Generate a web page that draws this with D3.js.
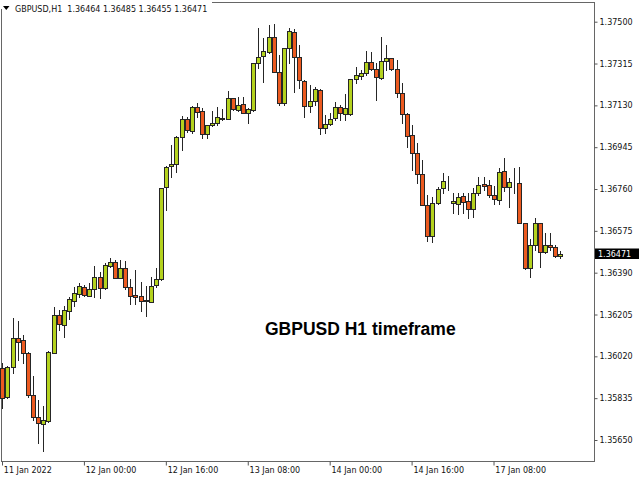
<!DOCTYPE html>
<html>
<head>
<meta charset="utf-8">
<script src="https://cdn.jsdelivr.net/npm/d3@7/dist/d3.min.js"></script>
<style>
  html, body { margin: 0; padding: 0; background: #ffffff; }
  svg { display: block; }
</style>
</head>
<body>
<script>
// ---- DATA (GBPUSD H1, from 11 Jan 2022 08:00) ----
const symbolTitle = "GBPUSD,H1";
const chartCaption = "GBPUSD H1 timeframe";

const open = [
1.35969,1.35841,1.35973,1.36102,1.36093,1.36035,1.35850,1.35752,1.35721,1.35735,
1.36035,1.36204,1.36159,1.36221,1.36265,1.36296,1.36327,1.36288,1.36319,1.36372,
1.36323,1.36420,1.36438,1.36367,1.36411,1.36327,1.36292,1.36288,1.36265,1.36261,
1.36336,1.36363,1.36770,1.36863,1.36872,1.36991,1.37071,1.37018,1.37124,1.37106,
1.37004,1.37044,1.37053,1.37075,1.37071,1.37164,1.37111,1.37137,1.37097,1.37111,
1.37319,1.37350,1.37367,1.37434,1.37279,1.37142,1.37385,1.37456,1.37345,1.37239,
1.37128,1.37150,1.37199,1.37031,1.37049,1.37075,1.37124,1.37093,1.37093,1.37248,
1.37261,1.37274,1.37323,1.37292,1.37252,1.37327,1.37341,1.37292,1.37186,1.37093,
1.37000,1.36920,1.36827,1.36690,1.36553,1.36699,1.36765,1.36792,1.36699,1.36695,
1.36730,1.36708,1.36673,1.36743,1.36783,1.36779,1.36735,1.36712,1.36841,1.36770,
1.36792,1.36788,1.36611,1.36411,1.36513,1.36611,1.36482,1.36513,1.36504,1.36464
];
const high = [
1.35991,1.35978,1.36190,1.36177,1.36115,1.36040,1.35934,1.35827,1.35801,1.36044,
1.36239,1.36226,1.36243,1.36283,1.36327,1.36345,1.36336,1.36345,1.36420,1.36394,
1.36434,1.36456,1.36447,1.36447,1.36442,1.36363,1.36403,1.36350,1.36332,1.36372,
1.36411,1.36765,1.36863,1.36956,1.36996,1.37084,1.37080,1.37128,1.37142,1.37119,
1.37044,1.37106,1.37124,1.37115,1.37195,1.37164,1.37168,1.37168,1.37119,1.37319,
1.37473,1.37429,1.37487,1.37491,1.37354,1.37385,1.37473,1.37469,1.37398,1.37243,
1.37221,1.37212,1.37204,1.37089,1.37097,1.37146,1.37133,1.37181,1.37248,1.37301,
1.37288,1.37372,1.37367,1.37319,1.37434,1.37398,1.37341,1.37332,1.37230,1.37097,
1.37044,1.36965,1.36889,1.36735,1.36726,1.36770,1.36832,1.36819,1.36743,1.36743,
1.36743,1.36743,1.36765,1.36814,1.36814,1.36801,1.36774,1.36854,1.36898,1.36810,
1.36854,1.36858,1.36611,1.36540,1.36633,1.36611,1.36566,1.36566,1.36513,1.36485
];
const low = [
1.35792,1.35836,1.35947,1.36004,1.35991,1.35841,1.35739,1.35637,1.35602,1.35730,
1.36035,1.36137,1.36106,1.36186,1.36243,1.36283,1.36288,1.36288,1.36283,1.36279,
1.36319,1.36416,1.36367,1.36367,1.36319,1.36252,1.36252,1.36221,1.36199,1.36261,
1.36327,1.36358,1.36668,1.36814,1.36836,1.36934,1.37013,1.37009,1.37080,1.36987,
1.36987,1.37040,1.37044,1.37066,1.37071,1.37111,1.37106,1.37097,1.37053,1.37106,
1.37296,1.37234,1.37363,1.37279,1.37133,1.37133,1.37319,1.37190,1.37208,1.37080,
1.37102,1.37133,1.37004,1.37009,1.37044,1.37066,1.37066,1.37066,1.37089,1.37230,
1.37248,1.37265,1.37288,1.37155,1.37248,1.37288,1.37288,1.37168,1.37053,1.36947,
1.36845,1.36788,1.36690,1.36531,1.36527,1.36695,1.36743,1.36757,1.36655,1.36650,
1.36655,1.36633,1.36637,1.36735,1.36757,1.36726,1.36695,1.36695,1.36752,1.36681,
1.36743,1.36611,1.36407,1.36372,1.36491,1.36416,1.36478,1.36491,1.36460,1.36455
];
const close = [
1.35836,1.35973,1.36102,1.36084,1.36035,1.35850,1.35752,1.35726,1.35739,1.36040,
1.36204,1.36164,1.36226,1.36274,1.36301,1.36332,1.36292,1.36319,1.36372,1.36323,
1.36425,1.36438,1.36367,1.36411,1.36327,1.36288,1.36283,1.36265,1.36270,1.36332,
1.36363,1.36765,1.36858,1.36872,1.36991,1.37071,1.37022,1.37124,1.37102,1.37004,
1.37044,1.37053,1.37080,1.37071,1.37164,1.37115,1.37133,1.37097,1.37115,1.37319,
1.37345,1.37372,1.37434,1.37279,1.37142,1.37385,1.37460,1.37345,1.37243,1.37128,
1.37150,1.37204,1.37031,1.37049,1.37071,1.37124,1.37097,1.37119,1.37248,1.37265,
1.37274,1.37323,1.37292,1.37257,1.37327,1.37341,1.37292,1.37186,1.37093,1.36996,
1.36920,1.36827,1.36690,1.36553,1.36699,1.36761,1.36797,1.36792,1.36708,1.36726,
1.36704,1.36673,1.36743,1.36779,1.36774,1.36735,1.36717,1.36836,1.36770,1.36792,
1.36792,1.36611,1.36411,1.36513,1.36611,1.36482,1.36513,1.36504,1.36465,1.36471
];

const yTicks = [1.37500,1.37315,1.37130,1.36945,1.36760,1.36575,1.36390,1.36205,1.36020,1.35835,1.35650];
const xTickIndex = [0,16,32,48,64,80,96];
const xTickLabels = ["11 Jan 2022","12 Jan 00:00","12 Jan 16:00","13 Jan 08:00","14 Jan 00:00","14 Jan 16:00","17 Jan 08:00"];

// ---- CHART ----
const W = 640, H = 480;
const bullFill = "#b4d21e", bearFill = "#ec5a20", edge = "#262626";
const font = "'DejaVu Sans', Verdana, sans-serif";

const bars = open.map((o, i) => ({ i, o, h: high[i], l: low[i], c: close[i] }));
const last = bars[bars.length - 1];

const svg = d3.select("body").append("svg").attr("width", W).attr("height", H);

const x = d3.scaleLinear().domain([0, bars.length - 1]).range([2.3, 2.3 + 5.12 * (bars.length - 1)]);
const y = d3.scaleLinear().domain([1.35650, 1.37500]).range([440, 21.7]);

// frame
svg.append("rect").attr("x", 1.5).attr("y", 2.5).attr("width", 593).attr("height", 459)
  .attr("fill", "none").attr("stroke", "#666").attr("stroke-width", 1);

// candles
const g = svg.append("g");
const px = d => Math.round(x(d.i));
g.selectAll("line.wick").data(bars).join("line")
  .attr("class", "wick")
  .attr("x1", d => px(d) + 0.5).attr("x2", d => px(d) + 0.5)
  .attr("y1", d => Math.round(y(d.h))).attr("y2", d => Math.round(y(d.l)) + 1)
  .attr("stroke", edge).attr("stroke-width", 1);

g.selectAll("rect.body").data(bars).join("rect")
  .attr("class", "body")
  .attr("x", d => px(d) - 1.5)
  .attr("y", d => Math.round(y(Math.max(d.o, d.c))) + 0.5)
  .attr("width", 4)
  .attr("height", d => Math.max(0, Math.round(y(Math.min(d.o, d.c))) - Math.round(y(Math.max(d.o, d.c)))))
  .attr("fill", d => d.c >= d.o ? bullFill : bearFill)
  .attr("stroke", edge).attr("stroke-width", 1);

// right price axis
const yAxis = svg.append("g").attr("transform", "translate(594.5,0)")
  .call(d3.axisRight(y).tickValues(yTicks).tickSize(3).tickPadding(2).tickFormat(d3.format(".5f")));
yAxis.select(".domain").remove();
yAxis.selectAll("line").attr("stroke", "#555");
yAxis.selectAll("text").attr("font-family", font).attr("font-size", 8).attr("fill", "#111");

// bottom time axis
const xAxis = svg.append("g").attr("transform", "translate(0,461.5)")
  .call(d3.axisBottom(x).tickValues(xTickIndex).tickSize(4).tickPadding(2)
    .tickFormat((d, i) => xTickLabels[i]));
xAxis.select(".domain").remove();
xAxis.selectAll(".tick line").attr("stroke", "#555").attr("transform", "translate(-0.3,0)");
xAxis.selectAll("text").attr("font-family", font).attr("font-size", 8).attr("fill", "#111")
  .attr("text-anchor", "start").attr("dx", 1);

// current price marker
const ly = y(last.c);
svg.append("rect").attr("x", 595).attr("y", Math.round(ly) - 5.5).attr("width", 44).attr("height", 10.5).attr("fill", "#000");
svg.append("text").attr("x", 598).attr("y", Math.round(ly) + 3)
  .attr("font-family", font).attr("font-size", 8).attr("fill", "#fff").text(d3.format(".5f")(last.c));

// header
svg.append("rect").attr("x", 0).attr("y", 0).attr("width", 212).attr("height", 9).attr("fill", "#fff");
svg.append("path").attr("d", "M3,6 L9.5,6 L6.25,10 Z").attr("fill", "#000");
svg.append("text").attr("x", 15).attr("y", 12).attr("font-family", font).attr("font-size", 8).attr("fill", "#111")
  .attr("xml:space", "preserve")
  .text(symbolTitle + "  " + [last.o, last.h, last.l, last.c].map(d3.format(".5f")).join(" "));

// caption
svg.append("text").attr("x", 265).attr("y", 335)
  .attr("font-family", "'Liberation Sans', Arial, sans-serif").attr("font-weight", "bold")
  .attr("font-size", 17.5).attr("fill", "#000").text(chartCaption);
</script>
</body>
</html>
